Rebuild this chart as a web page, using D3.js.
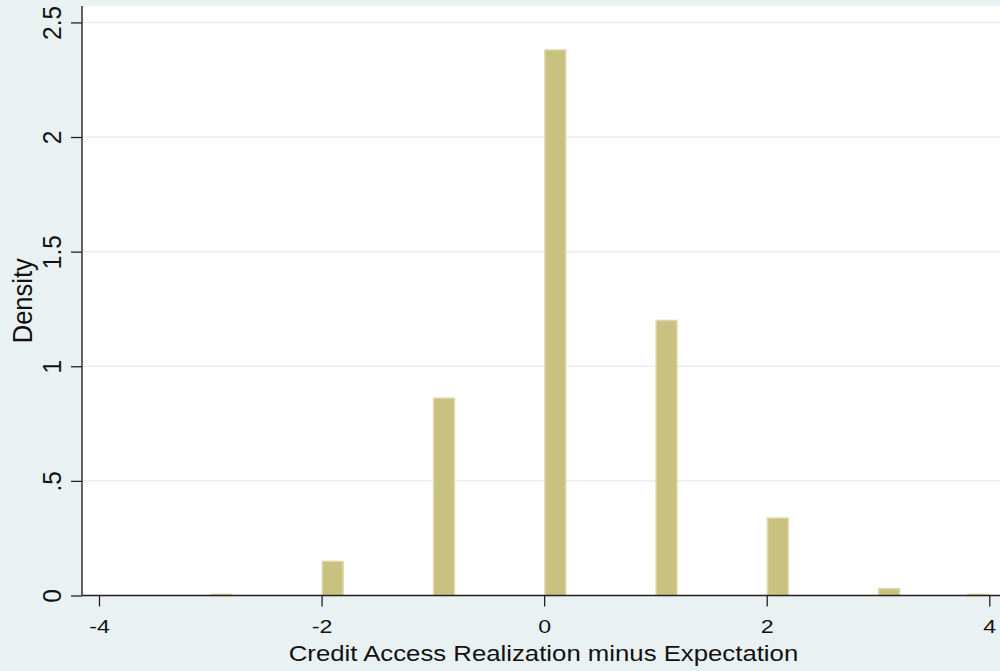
<!DOCTYPE html>
<html>
<head>
<meta charset="utf-8">
<script src="https://cdn.jsdelivr.net/npm/d3@7"></script>
<style>
  html, body { margin: 0; padding: 0; background: #eaf1f3; }
  svg { display: block; }
  text { font-family: "Liberation Sans", Arial, Helvetica, sans-serif; fill: #111; }
</style>
</head>
<body>
<svg id="chart" width="1000" height="671"></svg>
<script>
// Histogram of (realized - expected) credit access, bin width 0.2
const outcomes  = [-3, -2, -1, 0, 1, 2, 3, 4];
const binStarts = [-3, -2, -1, 0, 1, 2, 3, 3.8];
const density   = [0.008, 0.152, 0.864, 2.383, 1.203, 0.341, 0.033, 0.008];
const binWidth  = 0.2;

const xTicks = [-4, -2, 0, 2, 4];
const xTickLabels = ["-4", "-2", "0", "2", "4"];
const yTicks = [0, 0.5, 1, 1.5, 2, 2.5];
const yTickLabels = ["0", ".5", "1", "1.5", "2", "2.5"];

const xTitle = "Credit Access Realization minus Expectation";
const yTitle = "Density";

const svg = d3.select("#chart");
const W = 1000, H = 671;

const plot = { left: 82, top: 6, right: 1000, bottom: 595.5 };

const x = d3.scaleLinear().domain([-4, 4]).range([99, 989.3]);
const y = d3.scaleLinear().domain([0, 2.5]).range([plot.bottom, 22.4]);

// background and plot region
svg.append("rect").attr("width", W).attr("height", H).attr("fill", "#eaf1f3");
svg.append("rect")
  .attr("x", plot.left).attr("y", plot.top)
  .attr("width", plot.right - plot.left).attr("height", plot.bottom - plot.top)
  .attr("fill", "#ffffff");

// horizontal grid lines
svg.append("g").selectAll("line")
  .data(yTicks.filter(d => d > 0))
  .join("line")
  .attr("x1", plot.left).attr("x2", plot.right)
  .attr("y1", d => y(d)).attr("y2", d => y(d))
  .attr("stroke", "#e6eff2").attr("stroke-width", 1.6);

// bars
const bars = outcomes.map((o, i) => ({ outcome: o, start: binStarts[i], value: density[i] }));
svg.append("g").selectAll("rect")
  .data(bars)
  .join("rect")
  .attr("x", d => x(d.start) + 0.75)
  .attr("width", d => x(d.start + binWidth) - x(d.start) - 1.5)
  .attr("y", d => y(d.value) + 0.75)
  .attr("height", d => Math.max(0, y(0) - y(d.value) - 0.75))
  .attr("fill", "#c9c17f")
  .attr("stroke", "#dcd7a7")
  .attr("stroke-width", 1.5);

// x axis
const xAxis = d3.axisBottom(x)
  .tickValues(xTicks)
  .tickSize(11)
  .tickFormat((d, i) => xTickLabels[i]);
const gx = svg.append("g").attr("transform", `translate(0,${plot.bottom})`).call(xAxis);
gx.select(".domain").remove();
gx.selectAll(".tick line").attr("stroke", "#222").attr("stroke-width", 1.3);
gx.selectAll(".tick text")
  .attr("y", 0).attr("dy", null)
  .attr("transform", "translate(0,37.5) scale(1.22,1)")
  .attr("font-size", 19)
  .attr("fill", "#111");
svg.append("line")
  .attr("x1", plot.left).attr("x2", plot.right)
  .attr("y1", plot.bottom).attr("y2", plot.bottom)
  .attr("stroke", "#222").attr("stroke-width", 1.4);

// y axis
const yAxis = d3.axisLeft(y)
  .tickValues(yTicks)
  .tickSize(11)
  .tickFormat((d, i) => yTickLabels[i]);
const gy = svg.append("g").attr("transform", `translate(${plot.left},0)`).call(yAxis);
gy.select(".domain").remove();
gy.selectAll(".tick line").attr("stroke", "#222").attr("stroke-width", 1.3);
gy.selectAll(".tick text")
  .attr("x", 0).attr("dy", null)
  .attr("text-anchor", "middle")
  .attr("transform", "translate(-21,0) rotate(-90) scale(1,1.08)")
  .attr("font-size", 24.5)
  .attr("fill", "#111");
svg.append("line")
  .attr("x1", plot.left).attr("x2", plot.left)
  .attr("y1", plot.top).attr("y2", plot.bottom)
  .attr("stroke", "#222").attr("stroke-width", 1.4);

// axis titles
svg.append("text")
  .attr("transform", "translate(543.5,661) scale(1.12,1)")
  .attr("text-anchor", "middle")
  .attr("font-size", 23)
  .text(xTitle);

svg.append("text")
  .attr("transform", `translate(32,${(plot.top + plot.bottom) / 2}) rotate(-90) scale(1,1.09)`)
  .attr("text-anchor", "middle")
  .attr("font-size", 25.5)
  .text(yTitle);
</script>
</body>
</html>
